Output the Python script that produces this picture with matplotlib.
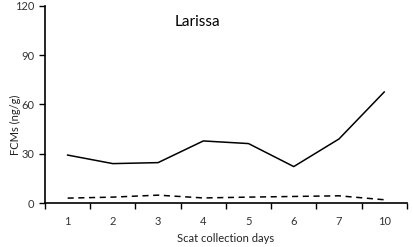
import matplotlib.pyplot as plt
import numpy as np

days = ['1', '2', '3', '4', '5', '6', '7', '10']
solid_vals = [29.2, 24.0, 24.6, 37.8, 36.2, 22.2, 39.0, 67.6]
dashed_vals = [3.0, 3.6, 4.8, 3.1, 3.6, 4.0, 4.4, 2.0]

plt.rcParams['font.family'] = ['Lato', 'DejaVu Sans']

fig = plt.figure(figsize=(4.13, 2.47), dpi=100)
ax = fig.add_axes([0.109, 0.178, 0.876, 0.798])

x = np.arange(len(days))
ax.plot(x, solid_vals, color='black', lw=1.1)
ax.plot(x, dashed_vals, color='black', lw=1.1, ls=(0, (4, 3)))

ax.set_xlim(-0.5, len(days) - 0.5)
ax.set_ylim(0, 120)
ax.set_yticks([0, 30, 60, 90, 120])
ax.set_xticks(x)
ax.set_xticklabels(days)
ax.set_xticks(np.arange(len(days) + 1) - 0.5, minor=True)
ax.tick_params(axis='x', which='major', length=0, pad=9, labelsize=8, colors='#333333')
ax.tick_params(axis='x', which='minor', length=4, width=1, direction='out', color='black')
ax.tick_params(axis='y', length=4, width=1, direction='out', labelsize=8, labelcolor='#333333')

for s in ['top', 'right']:
    ax.spines[s].set_visible(False)
ax.spines['left'].set_linewidth(1.2)
ax.spines['bottom'].set_linewidth(1.2)

ax.set_xlabel('Scat collection days', fontsize=8, color='#222222', labelpad=5)
# y label placed by hand, it sits a bit below the axis middle
fig.text(15 / 413, 1 - 125 / 247, 'FCMs (ng/g)', fontsize=8, color='#222222',
         rotation=90, ha='center', va='center')
ax.text(2.37, 110, 'Larissa', fontsize=11, color='black', va='center')

fig.savefig('out.png', dpi=100)
